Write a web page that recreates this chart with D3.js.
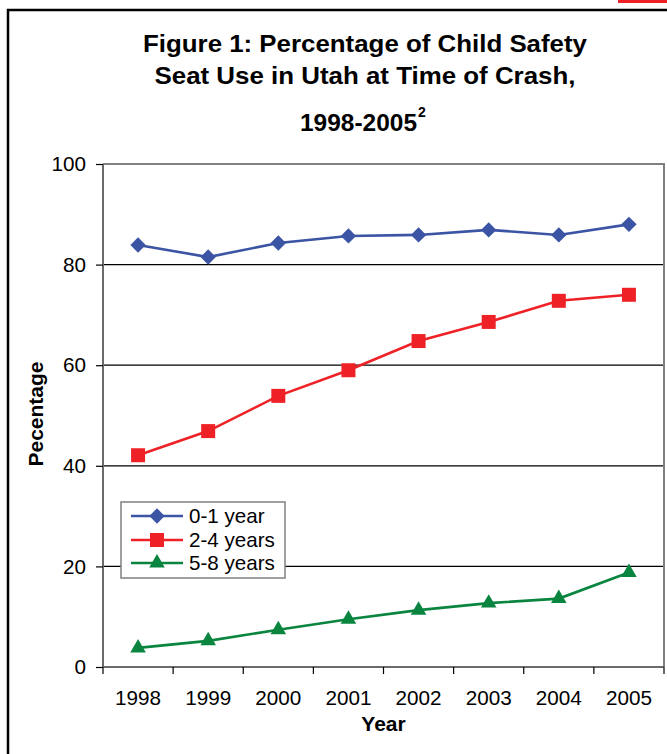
<!DOCTYPE html>
<html>
<head>
<meta charset="utf-8">
<script src="https://cdn.jsdelivr.net/npm/d3@7"></script>
<style>
  body { margin: 0; background: #fff; }
  svg { display: block; font-family: "Liberation Sans", Arial, sans-serif; }
</style>
</head>
<body>
<div id="chart"></div>
<script>
// data
const years = ['1998', '1999', '2000', '2001', '2002', '2003', '2004', '2005'];
const infant = [83.9, 81.5, 84.3, 85.7, 85.9, 86.9, 85.9, 88.0];      // 0-1 year
const toddler = [42.1, 46.9, 53.9, 59.0, 64.8, 68.6, 72.8, 74.0];     // 2-4 years
const booster = [3.8, 5.2, 7.4, 9.5, 11.3, 12.7, 13.6, 18.8];         // 5-8 years
const yTicks = [0, 20, 40, 60, 80, 100];
const seriesNames = ['0-1 year', '2-4 years', '5-8 years'];
const titleLines = ['Figure 1: Percentage of Child Safety', 'Seat Use in Utah at Time of Crash,', '1998-2005'];

const series = [
    { name: seriesNames[0], values: infant, color: '#3B54A4', shape: 'diamond' },
    { name: seriesNames[1], values: toddler, color: '#EE2226', shape: 'square' },
    { name: seriesNames[2], values: booster, color: '#09853F', shape: 'triangle' }
];

const W = 667, H = 754;
const plot = { left: 103, right: 664, top: 164, bottom: 667 };

const svg = d3.select('#chart').append('svg')
    .attr('width', W)
    .attr('height', H);

// outer frame and the red mark at top right
svg.append('rect')
    .attr('x', 8).attr('y', 10)
    .attr('width', 720).attr('height', 800)
    .attr('fill', 'none')
    .attr('stroke', '#000')
    .attr('stroke-width', 2.5);
svg.append('rect')
    .attr('x', 618).attr('y', 0)
    .attr('width', 49).attr('height', 3)
    .attr('fill', '#EE2226');

// title (the original type is a little wider than Arial, so stretch to the measured widths)
const title = svg.append('g').attr('font-weight', 'bold').attr('font-size', '24.5px')
    .attr('text-anchor', 'middle').attr('fill', '#000');
title.append('text').attr('x', 365).attr('y', 52)
    .attr('textLength', 444).attr('lengthAdjust', 'spacingAndGlyphs')
    .text(titleLines[0]);
title.append('text').attr('x', 365).attr('y', 84)
    .attr('textLength', 421).attr('lengthAdjust', 'spacingAndGlyphs')
    .text(titleLines[1]);
title.append('text').attr('x', 300).attr('y', 131)
    .attr('text-anchor', 'start')
    .attr('textLength', 117).attr('lengthAdjust', 'spacingAndGlyphs')
    .text(titleLines[2]);
title.append('text').attr('x', 418).attr('y', 117)
    .attr('text-anchor', 'start')
    .attr('font-size', '14px')
    .text('2');

// scales
const x = d3.scaleBand()
    .domain(years)
    .range([plot.left, plot.right])
    .padding(0);

const y = d3.scaleLinear()
    .domain([0, 100])
    .range([plot.bottom, plot.top]);

// gridlines
svg.append('g')
    .selectAll('line')
    .data(yTicks.filter(d => d > 0 && d < 100))
    .enter()
    .append('line')
    .attr('x1', plot.left).attr('x2', plot.right)
    .attr('y1', d => y(d)).attr('y2', d => y(d))
    .attr('stroke', '#000')
    .attr('stroke-width', 1.2);

// plot border (top and right)
svg.append('path')
    .attr('d', `M${plot.left},${plot.top}H${plot.right}V${plot.bottom}`)
    .attr('fill', 'none')
    .attr('stroke', '#808080')
    .attr('stroke-width', 2);

// y axis
const yAxis = svg.append('g')
    .attr('transform', `translate(${plot.left},0)`)
    .call(d3.axisLeft(y).tickValues(yTicks).tickSize(7).tickPadding(10));
yAxis.select('.domain').attr('stroke', '#6b6b6b').attr('stroke-width', 2)
    .attr('d', `M0,${plot.top}V${plot.bottom}`);
yAxis.selectAll('.tick line').attr('stroke', '#000').attr('stroke-width', 1.2);
yAxis.selectAll('text').attr('font-size', '20.7px').attr('fill', '#000')
    .attr('font-family', '"Liberation Sans", Arial, sans-serif');

// x axis (labels centred, ticks at category boundaries)
const xAxis = svg.append('g')
    .attr('transform', `translate(0,${plot.bottom})`)
    .call(d3.axisBottom(x).tickSize(0).tickPadding(23));
xAxis.select('.domain').attr('stroke', '#6b6b6b').attr('stroke-width', 2)
    .attr('d', `M${plot.left},0H${plot.right}`);
xAxis.selectAll('text').attr('font-size', '20.7px').attr('fill', '#000')
    .attr('font-family', '"Liberation Sans", Arial, sans-serif');
xAxis.selectAll('.bound')
    .data(years.map(d => x(d)).concat([x.range()[1]]))
    .enter()
    .append('line')
    .attr('class', 'bound')
    .attr('x1', d => d).attr('x2', d => d)
    .attr('y1', 0).attr('y2', 7)
    .attr('stroke', '#000')
    .attr('stroke-width', 1.2);

// axis titles
svg.append('text')
    .attr('x', (plot.left + plot.right) / 2)
    .attr('y', 731)
    .attr('text-anchor', 'middle')
    .attr('font-weight', 'bold')
    .attr('font-size', '21px')
    .text('Year');

svg.append('text')
    .attr('transform', 'translate(43,414) rotate(-90)')
    .attr('text-anchor', 'middle')
    .attr('font-weight', 'bold')
    .attr('font-size', '21px')
    .text('Pecentage');

// marker generator
function marker(shape) {
    if (shape === 'diamond') return { d: d3.symbol(d3.symbolSquare, 118)(), rot: 45 };
    if (shape === 'square') return { d: d3.symbol(d3.symbolSquare, 196)(), rot: 0 };
    return { d: d3.symbol(d3.symbolTriangle, 105)(), rot: 0 };
}

const line = d3.line()
    .x((d, i) => x(years[i]) + x.bandwidth() / 2)
    .y(d => y(d));

// series lines and markers
series.forEach(s => {
    svg.append('path')
        .datum(s.values)
        .attr('d', line)
        .attr('fill', 'none')
        .attr('stroke', s.color)
        .attr('stroke-width', 2.6);

    const m = marker(s.shape);
    svg.append('g')
        .selectAll('path')
        .data(s.values)
        .enter()
        .append('path')
        .attr('d', m.d)
        .attr('transform', (d, i) => `translate(${x(years[i]) + x.bandwidth() / 2},${y(d)}) rotate(${m.rot})`)
        .attr('fill', s.color);
});

// legend
const legend = svg.append('g');
legend.append('rect')
    .attr('x', 121).attr('y', 502)
    .attr('width', 164).attr('height', 76)
    .attr('fill', '#fff')
    .attr('stroke', '#808080')
    .attr('stroke-width', 1.5);

const rows = [516, 540, 563];
series.forEach((s, i) => {
    const g = legend.append('g').attr('transform', `translate(0,${rows[i]})`);
    g.append('line')
        .attr('x1', 131).attr('x2', 183)
        .attr('y1', 0).attr('y2', 0)
        .attr('stroke', s.color)
        .attr('stroke-width', 2.6);
    const m = marker(s.shape);
    g.append('path')
        .attr('d', m.d)
        .attr('transform', `translate(157,0) rotate(${m.rot})`)
        .attr('fill', s.color);
    g.append('text')
        .attr('x', 189)
        .attr('y', 7)
        .attr('font-size', '20.6px')
        .text(s.name);
});
</script>
</body>
</html>
